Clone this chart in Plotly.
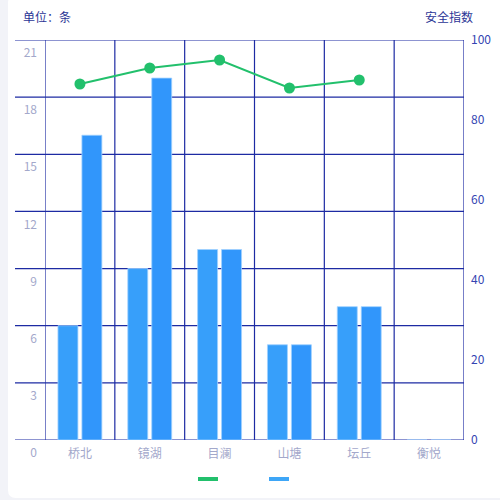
import plotly.graph_objects as go

categories = ["桥北", "镜湖", "目澜", "山塘", "坛丘", "衡悦"]
bar_a = [6, 9, 10, 5, 7, 0]
bar_b = [16, 19, 10, 5, 7, 0]
safety_index = [89, 93, 95, 88, 90, None]
left_ticks = [0, 3, 6, 9, 12, 15, 18, 21]
right_ticks = [0, 20, 40, 60, 80, 100]

W, H = 500, 500
L, R, T, B = 45, 36, 40, 60
PW, PH = W - L - R, H - T - B

def px(xp):
    return (xp - L) / PW

def py(yp):
    return (H - B - yp) / PH

GRID = "#1d2ba3"
FONT = "Noto Sans CJK SC"

fig = go.Figure()
fig.add_trace(go.Bar(x=categories, y=bar_a, marker=dict(color="#379ffa", line=dict(color="#9fd0ff", width=0.8)), showlegend=False))
fig.add_trace(go.Bar(x=categories, y=bar_b, marker=dict(color="#3196fb", line=dict(color="#9fd0ff", width=0.8)), showlegend=False))
fig.add_trace(go.Scatter(x=categories, y=safety_index, yaxis="y2", mode="lines+markers",
                         line=dict(color="#22c06c", width=2), marker=dict(color="#22c06c", size=11),
                         connectgaps=False, showlegend=False))

shapes = []
# card background
x0, x1, y0, y1, r = 8, 505, -5, 498, 8
path = (f"M {px(x0+r)} {py(y0)} L {px(x1)} {py(y0)} L {px(x1)} {py(y1)} L {px(x0+r)} {py(y1)} "
        f"Q {px(x0)} {py(y1)} {px(x0)} {py(y1-r)} L {px(x0)} {py(y0+r)} Q {px(x0)} {py(y0)} {px(x0+r)} {py(y0)} Z")
shapes.append(dict(type="path", xref="paper", yref="paper", path=path, fillcolor="white", line=dict(width=0), layer="below"))
# horizontal grid lines (extend left of plot area)
for v in left_ticks:
    shapes.append(dict(type="line", xref="paper", yref="y", x0=px(15), x1=1, y0=v, y1=v,
                       line=dict(color=GRID, width=1.2), layer="below"))
# vertical grid lines at category boundaries
for i in range(len(categories) + 1):
    shapes.append(dict(type="line", xref="x", yref="paper", x0=i - 0.5, x1=i - 0.5, y0=0, y1=1,
                       line=dict(color=GRID, width=1.2), layer="below"))
# legend icons
shapes.append(dict(type="rect", xref="paper", yref="paper", x0=px(198), x1=px(218), y0=py(481), y1=py(477),
                   fillcolor="#22c06c", line=dict(width=0)))
shapes.append(dict(type="rect", xref="paper", yref="paper", x0=px(269), x1=px(289), y0=py(481), y1=py(477),
                   fillcolor="#3ea6f7", line=dict(width=0)))

annotations = [
    dict(text="单位：条", xref="paper", yref="paper", x=px(21), y=py(17), xanchor="left", yanchor="middle",
         showarrow=False, font=dict(family=FONT, size=12, color="#2b3596")),
    dict(text="安全指数", xref="paper", yref="paper", x=px(475), y=py(17), xanchor="right", yanchor="middle",
         showarrow=False, font=dict(family=FONT, size=12, color="#2b3596")),
]

fig.update_layout(
    width=W, height=H,
    margin=dict(l=L, r=R, t=T, b=B, autoexpand=False),
    paper_bgcolor="#f2f3f8",
    plot_bgcolor="rgba(0,0,0,0)",
    font=dict(family=FONT, size=12),
    barmode="group", bargap=0.314, bargroupgap=0.167,
    showlegend=False,
    xaxis=dict(type="category", range=[-0.5, 5.5], showgrid=False, zeroline=False, showline=False,
               automargin=False, ticks="", tickfont=dict(color="#a3a8cb", size=12), ticklabelstandoff=5),
    yaxis=dict(range=[0, 21], tickvals=left_ticks, showgrid=False, zeroline=False, showline=False,
               automargin=False, ticks="", tickfont=dict(color="#a3a8cb", size=12), ticklabelshift=13,
               ticklabelstandoff=7),
    yaxis2=dict(range=[0, 100], tickvals=right_ticks, overlaying="y", side="right", showgrid=False,
                automargin=False, zeroline=False, showline=False, ticks="", tickfont=dict(color="#3444b2", size=12),
                ticklabelstandoff=6),
    shapes=shapes,
    annotations=annotations,
)

fig.write_html("out.html", config={"displayModeBar": False},
               post_script="document.body.style.margin='0';document.body.style.overflow='hidden';")
